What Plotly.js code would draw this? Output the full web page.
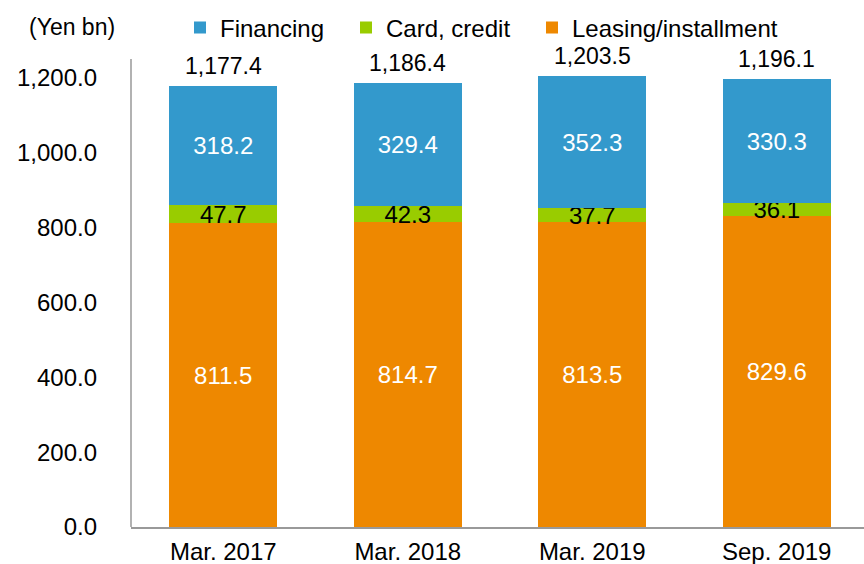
<!DOCTYPE html>
<html>
<head>
<meta charset="utf-8">
<script src="https://cdn.plot.ly/plotly-3.0.1.min.js"></script>
<style>html,body{margin:0;padding:0;background:#fff;}#chart{width:864px;height:564px;}</style>
</head>
<body>
<div id="chart"></div>
<script>
const categories = ["Mar. 2017", "Mar. 2018", "Mar. 2019", "Sep. 2019"];
const leasing = [811.5, 814.7, 813.5, 829.6];
const card = [47.7, 42.3, 37.7, 36.1];
const financing = [318.2, 329.4, 352.3, 330.3];
const totals = [1177.4, 1186.4, 1203.5, 1196.1];
const tickVals = [0, 200, 400, 600, 800, 1000, 1200];
const tickText = ["0.0", "200.0", "400.0", "600.0", "800.0", "1,000.0", "1,200.0"];

const fmt = v => v.toLocaleString("en-US", {minimumFractionDigits: 1, maximumFractionDigits: 1});
const FONT = "Liberation Sans, Arial, sans-serif";

function barTrace(name, vals, color, textColor, legendId) {
  return {
    type: "bar", name: name, x: categories, y: vals,
    marker: {color: color}, legend: legendId,
    width: 0.585,
    text: vals.map(fmt), textposition: "inside", insidetextanchor: "middle",
    constraintext: "none",
    textfont: {family: FONT, size: 24, color: textColor},
    hoverinfo: "skip"
  };
}

const data = [
  barTrace("Leasing/installment", leasing, "#EE8800", "#ffffff", "legend3"),
  barTrace("Card, credit", card, "#99CC00", "#000000", "legend2"),
  barTrace("Financing", financing, "#3399CC", "#ffffff", "legend")
];

const annotations = categories.map((c, i) => ({
  x: c, y: totals[i], xref: "x", yref: "y", text: fmt(totals[i]),
  showarrow: false, yanchor: "bottom", yshift: 5,
  font: {family: FONT, size: 23, color: "#000"}
}));
annotations.push({
  xref: "paper", yref: "paper", x: (27 - 131) / 733, y: (527 - 27) / 490,
  xanchor: "left", yanchor: "middle",
  text: "(Yen bn)", showarrow: false, font: {family: FONT, size: 23, color: "#000"}
});

function legendAt(left) {
  return {
    orientation: "h", x: (left - 131) / 733, y: (527 - 28) / 490, xanchor: "left", yanchor: "middle",
    font: {family: FONT, size: 24, color: "#000"}, bgcolor: "rgba(0,0,0,0)",
    itemwidth: 30
  };
}

const layout = {
  width: 864, height: 564,
  margin: {l: 131, r: 0, t: 37, b: 37, pad: 0, autoexpand: false},
  barmode: "stack",
  paper_bgcolor: "#fff", plot_bgcolor: "#fff",
  font: {family: FONT, size: 24, color: "#000"},
  showlegend: true,
  legend: legendAt(180),
  legend2: legendAt(346),
  legend3: legendAt(532),
  xaxis: {
    type: "category", range: [-0.5, 3.473],
    showline: true, linecolor: "#999", linewidth: 1.5,
    ticks: "", showgrid: false, zeroline: false,
    ticklabelstandoff: 3,
    tickfont: {family: FONT, size: 24, color: "#000"}
  },
  yaxis: {
    range: [0, 1250 * 490 / 468], tickvals: tickVals, ticktext: tickText,
    showline: false,
    ticks: "", ticklen: 0, showgrid: false, zeroline: false,
    ticklabelstandoff: 33,
    tickfont: {family: FONT, size: 24, color: "#000"}
  },
  shapes: [{
    type: "line", xref: "paper", yref: "y", x0: 0, x1: 0, y0: 0, y1: 1250,
    line: {color: "#999", width: 1.5}
  }],
  annotations: annotations
};

Plotly.newPlot("chart", data, layout, {displayModeBar: false, staticPlot: true});
</script>
</body>
</html>
